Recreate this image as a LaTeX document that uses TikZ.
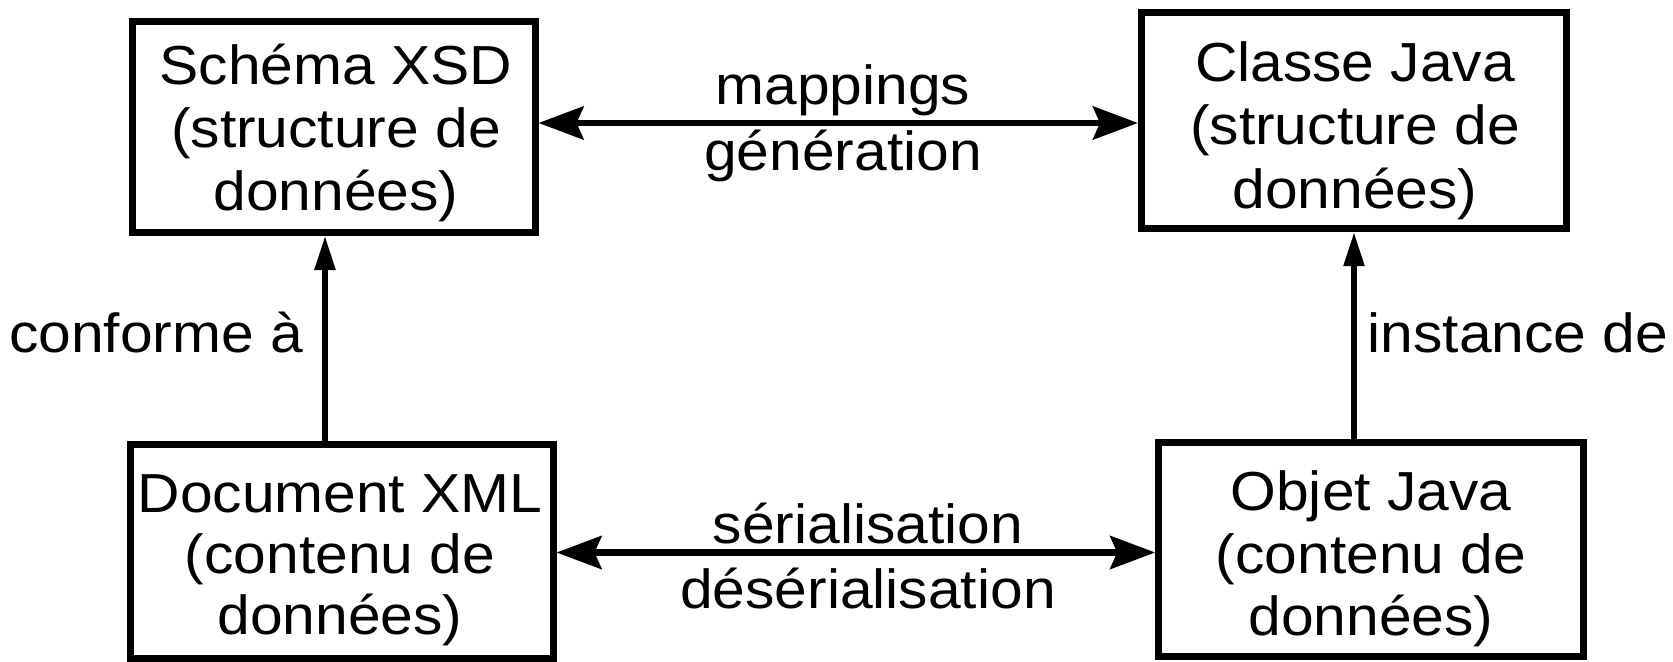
\documentclass[tikz,border=0pt]{standalone}
\usepackage{fontspec}
\setmainfont{Liberation Sans}[FakeStretch=1.068]
\usetikzlibrary{arrows.meta}
\begin{document}
\begin{tikzpicture}[x=1bp,y=-1bp,
  every node/.style={font=\fontsize{55bp}{62bp}\selectfont, inner sep=0pt},
  boxnode/.style={draw, line width=7bp, rectangle},
  txt/.style={anchor=base},
  harrow/.style={line width=6.5bp, {Stealth[length=45bp,width=33bp,inset=7bp]}-{Stealth[length=45bp,width=33bp,inset=7bp]}},
  varrow/.style={line width=5.5bp, -{Triangle[length=34bp,width=20bp]}}
]
\useasboundingbox (0,0) rectangle (1673,662);
% boxes
\node[boxnode, minimum width=402bp, minimum height=211bp] (b1) at (334,127) {};
\node[boxnode, minimum width=425bp, minimum height=216bp] (b2) at (1354,120.7) {};
\node[boxnode, minimum width=422bp, minimum height=213.5bp] (b3) at (342,551.7) {};
\node[boxnode, minimum width=424.6bp, minimum height=214.4bp] (b4) at (1371,549.5) {};
% box texts
\node[txt] (t11) at (336,85) {Schéma XSD};
\node[txt] (t12) at (336,148) {(structure de};
\node[txt] (t13) at (336,210) {données)};
\node[txt] (t21) at (1355,82) {Classe Java};
\node[txt] (t22) at (1355,145) {(structure de};
\node[txt] (t23) at (1355,208) {données)};
\node[txt] (t31) at (340,512) {Document XML};
\node[txt] (t32) at (340,573) {(contenu de};
\node[txt] (t33) at (340,634) {données)};
\node[txt] (t41) at (1371,510) {Objet Java};
\node[txt] (t42) at (1371,573) {(contenu de};
\node[txt] (t43) at (1371,635) {données)};
% connector helper coordinates
\coordinate (ytop) at (0,123);
\coordinate (ybot) at (0,552.5);
\coordinate (xl) at (325,0);
\coordinate (xr) at (1354,0);
% connectors
\draw[harrow] (b1.east |- ytop) -- (b2.west |- ytop);
\draw[harrow] (b3.east |- ybot) -- (b4.west |- ybot);
\draw[varrow] (b3.north -| xl) -- (b1.south -| xl);
\draw[varrow] (b4.north -| xr) -- (b2.south -| xr);
% labels
\node[txt] (l1) at (843,105) {mappings};
\node[txt] (l2) at (843,170) {génération};
\node[txt] (l3) at (868,543) {sérialisation};
\node[txt] (l4) at (868,608) {désérialisation};
\node[txt] (l5) at (156,352) {conforme à};
\node[txt] (l6) at (1518,352) {instance de};
\end{tikzpicture}
\end{document}
